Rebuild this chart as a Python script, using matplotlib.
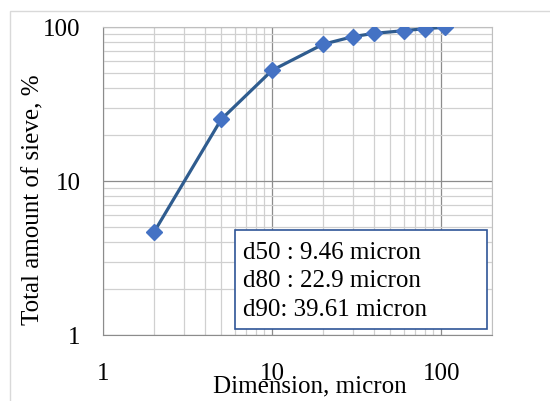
import matplotlib.pyplot as plt
from matplotlib.patches import Rectangle
from matplotlib.ticker import LogLocator, NullFormatter, FixedLocator, FixedFormatter

plt.rcParams['font.family'] = ['Liberation Serif', 'DejaVu Serif']

size_um = [2, 5, 10, 20, 30, 40, 60, 80, 106]
passing = [4.64, 25.1, 52.3, 77.2, 86.5, 90.9, 94.6, 97.5, 99.6]
note = "d50 : 9.46 micron\nd80 : 22.9 micron\nd90: 39.61 micron"

fig = plt.figure(figsize=(5.5, 4.01), dpi=100)
fig.patches.append(Rectangle((10 / 550, -0.1), 1.0, 1 - 11 / 401 + 0.1,
                             transform=fig.transFigure, fill=False,
                             edgecolor='#d9d9d9', linewidth=1))
ax = fig.add_axes([103 / 550, 1 - 335 / 401, (492 - 103) / 550, (335 - 27) / 401])

ax.plot(size_um, passing, color='#2f5c8f', linewidth=2.3, marker='D',
        markersize=8.5, markerfacecolor='#4472c4', markeredgecolor='#4472c4', zorder=3)

ax.set_xscale('log')
ax.set_yscale('log')
ax.set_xlim(1, 200)
ax.set_ylim(1, 100)

ax.xaxis.set_major_locator(FixedLocator([1, 10, 100]))
ax.xaxis.set_major_formatter(FixedFormatter(['1', '10', '100']))
ax.yaxis.set_major_locator(FixedLocator([1, 10, 100]))
ax.yaxis.set_major_formatter(FixedFormatter(['1', '10', '100']))
ax.xaxis.set_minor_locator(LogLocator(base=10, subs=range(2, 10)))
ax.yaxis.set_minor_locator(LogLocator(base=10, subs=range(2, 10)))
ax.xaxis.set_minor_formatter(NullFormatter())
ax.yaxis.set_minor_formatter(NullFormatter())

ax.grid(which='major', color='#8c8c8c', linewidth=0.9)
ax.grid(which='minor', color='#d0d0d0', linewidth=0.9)
ax.set_axisbelow(True)
ax.tick_params(which='both', length=0, labelsize=18)
ax.tick_params(axis='x', pad=20)
ax.tick_params(axis='y', pad=16)
for s in ax.spines.values():
    s.set_color('#bfbfbf')
ax.spines['left'].set_color('#8c8c8c')
ax.spines['bottom'].set_color('#8c8c8c')

fig.text(310 / 550, 1 - 386 / 401, 'Dimension, micron', ha='center', va='center', fontsize=18)
fig.text(33 / 550, 1 - 200 / 401, 'Total amount of sieve, %', ha='center', va='center',
         rotation=90, fontsize=18)

ax.add_patch(Rectangle((0.339, 0.0195), 0.987 - 0.339, 0.341 - 0.0195, transform=ax.transAxes,
                       facecolor='white', edgecolor='#2f5597', linewidth=1.2, zorder=5))
ax.text(0.360, 0.175, note, transform=ax.transAxes, fontsize=18, va='center', ha='left',
        linespacing=1.38, zorder=6)

fig.savefig('out.png', dpi=100)
